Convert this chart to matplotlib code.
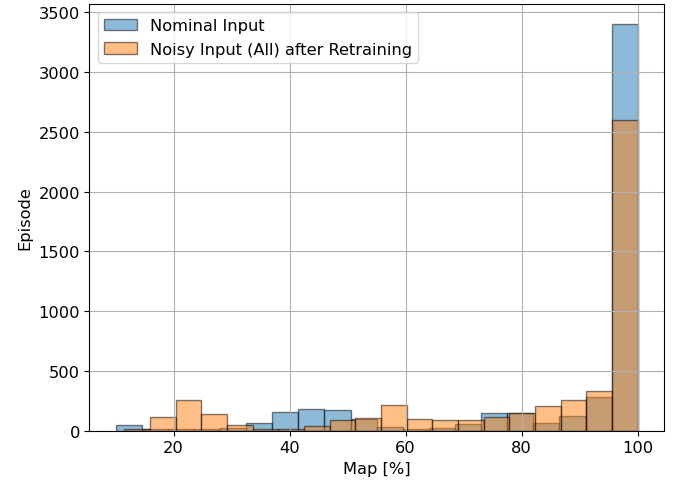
import numpy as np
import matplotlib
matplotlib.use("Agg")
import matplotlib.pyplot as plt

# Nominal input: 20 bins from 10 to 100
nominal_range = (10.0, 100.0)
nominal_counts = [45, 10, 10, 10, 20, 62, 155, 181, 170, 100,
                  30, 15, 25, 55, 148, 150, 65, 120, 285, 3400]

# Noisy input after retraining: 20 bins from 11.5 to 100
noisy_range = (11.5, 100.0)
noisy_counts = [15, 111, 260, 142, 50, 15, 15, 40, 92, 108,
                217, 100, 90, 88, 110, 148, 203, 256, 332, 2600]

labels = ["Nominal Input", "Noisy Input (All) after Retraining"]

plt.rcParams["font.size"] = 11.7

fig = plt.figure(figsize=(6.83, 4.85), dpi=100)
ax = fig.add_axes([0.131, 0.110, 0.841, 0.880])

for rng, counts, lab in [(nominal_range, nominal_counts, labels[0]),
                         (noisy_range, noisy_counts, labels[1])]:
    edges = np.linspace(rng[0], rng[1], len(counts) + 1)
    centers = (edges[:-1] + edges[1:]) / 2
    ax.hist(centers, bins=edges, weights=counts, alpha=0.5,
            edgecolor="black", label=lab)

ax.set_xlabel("Map [%]")
ax.set_ylabel("Episode")
ax.grid(True)
ax.legend(loc="upper left")
fig.savefig("out.png", dpi=100)
